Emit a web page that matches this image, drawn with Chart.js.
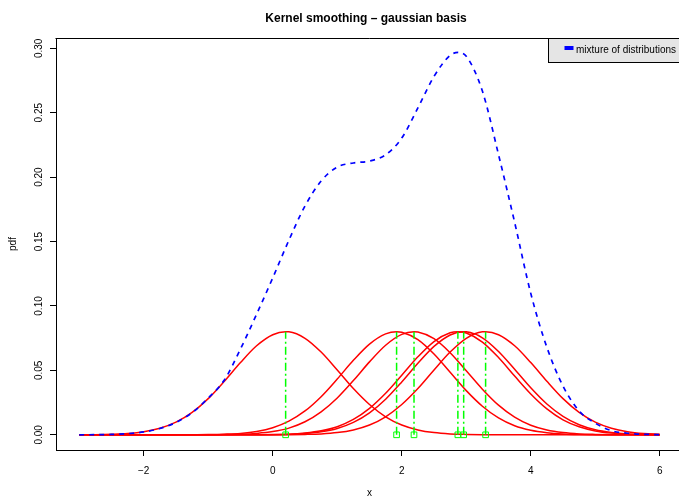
<!DOCTYPE html>
<html>
<head>
<meta charset="utf-8">
<title>Kernel smoothing - gaussian basis</title>
<script src="https://cdn.jsdelivr.net/npm/chart.js@4.4.1/dist/chart.umd.min.js"></script>
<style>
  html, body { margin: 0; padding: 0; background: #fff; overflow: hidden; }
  canvas { display: block; }
</style>
</head>
<body>
<canvas id="kernelChart" width="690" height="499"></canvas>
<script>
// x grid the curves were read on (step 0.25)
const gridX = [-3, -2.75, -2.5, -2.25, -2, -1.75, -1.5, -1.25, -1, -0.75, -0.5, -0.25,
  0, 0.25, 0.5, 0.75, 1, 1.25, 1.5, 1.75, 2, 2.25, 2.5, 2.75, 3, 3.25, 3.5, 3.75,
  4, 4.25, 4.5, 4.75, 5, 5.25, 5.5, 5.75, 6];

// observed data points (green squares) and the height of each kernel at its centre
const dataX = [0.2, 1.92, 2.19, 2.87, 2.96, 3.3];
const kernelPeak = [0.08, 0.08, 0.08, 0.08, 0.08, 0.08];

// red kernels, one per data point, on gridX
const kernel1 = [0, 0.0001, 0.0004, 0.0010, 0.0024, 0.0051, 0.0098, 0.0174, 0.0281, 0.0416, 0.0561, 0.0691,
  0.0777, 0.0799, 0.0749, 0.0642, 0.0503, 0.0359, 0.0235, 0.0140, 0.0076, 0.0038, 0.0017, 0.0007, 0.0003, 0.0001,
  0, 0, 0, 0, 0, 0, 0, 0, 0, 0, 0];
const kernel2 = [0, 0, 0, 0, 0, 0, 0, 0.0001, 0.0002, 0.0005, 0.0011, 0.0026,
  0.0055, 0.0106, 0.0185, 0.0296, 0.0433, 0.0578, 0.0704, 0.0783, 0.0796, 0.0739, 0.0627, 0.0485, 0.0343, 0.0222,
  0.0131, 0.0070, 0.0035, 0.0016, 0.0006, 0.0002, 0.0001, 0, 0, 0, 0];
const kernel3 = [0, 0, 0, 0, 0, 0, 0, 0, 0, 0.0002, 0.0004, 0.0011,
  0.0025, 0.0052, 0.0101, 0.0178, 0.0286, 0.0421, 0.0566, 0.0695, 0.0779, 0.0798, 0.0746, 0.0637, 0.0497, 0.0354,
  0.0230, 0.0137, 0.0074, 0.0037, 0.0017, 0.0007, 0.0003, 0.0001, 0, 0, 0];
const kernel4 = [0, 0, 0, 0, 0, 0, 0, 0, 0, 0, 0, 0.0001,
  0.0002, 0.0005, 0.0014, 0.0031, 0.0063, 0.0119, 0.0205, 0.0322, 0.0462, 0.0605, 0.0724, 0.0792, 0.0790, 0.0720,
  0.0600, 0.0456, 0.0317, 0.0201, 0.0116, 0.0062, 0.0030, 0.0013, 0.0005, 0.0002, 0.0001];
const kernel5 = [0, 0, 0, 0, 0, 0, 0, 0, 0, 0, 0, 0,
  0.0001, 0.0004, 0.0010, 0.0023, 0.0049, 0.0096, 0.0170, 0.0276, 0.0410, 0.0555, 0.0686, 0.0775, 0.0799, 0.0753,
  0.0647, 0.0509, 0.0365, 0.0239, 0.0143, 0.0078, 0.0039, 0.0018, 0.0007, 0.0003, 0.0001];
const kernel6 = [0, 0, 0, 0, 0, 0, 0, 0, 0, 0, 0, 0,
  0, 0.0001, 0.0003, 0.0007, 0.0017, 0.0038, 0.0076, 0.0140, 0.0235, 0.0359, 0.0503, 0.0642, 0.0749, 0.0799,
  0.0777, 0.0691, 0.0561, 0.0416, 0.0281, 0.0174, 0.0098, 0.0051, 0.0024, 0.0010, 0.0004];
const kernels = [kernel1, kernel2, kernel3, kernel4, kernel5, kernel6];

// blue dashed mixture
const mixX = [-3, -2.75, -2.5, -2.25, -2, -1.75, -1.5, -1.25, -1, -0.75, -0.5, -0.25,
  0, 0.25, 0.5, 0.75, 1, 1.25, 1.5, 1.75, 2, 2.25, 2.5, 2.75, 2.875, 3, 3.25, 3.5, 3.75,
  4, 4.25, 4.5, 4.75, 5, 5.25, 5.5, 5.75, 6];
const mixY = [0, 0.0001, 0.0003, 0.0009, 0.0022, 0.0049, 0.0096, 0.0172, 0.0285, 0.0425, 0.0666, 0.0936,
  0.1218, 0.1510, 0.1776, 0.1970, 0.2078, 0.2110, 0.2125, 0.2173, 0.2303, 0.2537, 0.2782, 0.2945, 0.2968, 0.2938,
  0.2668, 0.2175, 0.1649, 0.1098, 0.0679, 0.0378, 0.0185, 0.0090, 0.0032, 0.0012, 0.0004, 0.0001];

const xTicks = [-2, 0, 2, 4, 6];
const xTickLabels = ['\u22122', '0', '2', '4', '6'];
const yTicks = [0, 0.05, 0.10, 0.15, 0.20, 0.25, 0.30];
const yTickLabels = ['0.00', '0.05', '0.10', '0.15', '0.20', '0.25', '0.30'];

const titleText = 'Kernel smoothing \u2013 gaussian basis';
const mixLabel = 'mixture of distributions';

const fontFamily = '"Liberation Sans", Arial, Helvetica, sans-serif';

function toPoints(xs, ys) {
  return xs.map((x, i) => ({ x: x, y: ys[i] }));
}

// kernel curve on the grid plus its own centre point
function kernelPoints(ys, c, peak) {
  const pts = toPoints(gridX, ys);
  pts.push({ x: c, y: peak });
  pts.sort((a, b) => a.x - b.x);
  return pts;
}

const datasets = [];

// green squares at y = 0
datasets.push({
  label: 'data',
  data: dataX.map(x => ({ x: x, y: 0 })),
  showLine: false,
  pointStyle: 'rect',
  pointRadius: 4,
  pointBorderWidth: 1,
  pointBorderColor: '#00ff00',
  pointBackgroundColor: 'rgba(0,0,0,0)',
  order: 0
});

// green dot-dash segments up to each kernel peak
dataX.forEach((c, i) => {
  datasets.push({
    label: 'seg' + i,
    data: [{ x: c, y: 0 }, { x: c, y: kernelPeak[i] }],
    borderColor: '#00ff00',
    borderWidth: 1.5,
    borderDash: [8, 3, 2, 3],
    pointRadius: 0,
    order: 1
  });
});

datasets.push({
  label: mixLabel,
  data: toPoints(mixX, mixY),
  borderColor: '#0000ff',
  borderWidth: 1.7,
  borderDash: [5, 5],
  pointRadius: 0,
  cubicInterpolationMode: 'monotone',
  order: 2
});

kernels.forEach((k, i) => {
  datasets.push({
    label: 'kernel' + (i + 1),
    data: kernelPoints(k, dataX[i], kernelPeak[i]),
    borderColor: '#ff0000',
    borderWidth: 1.5,
    pointRadius: 0,
    cubicInterpolationMode: 'monotone',
    order: 3
  });
});

// title, rotated y labels, top frame line and the legend box
const decorations = {
  id: 'decorations',
  afterDraw(chart) {
    const ctx = chart.ctx;
    const area = chart.chartArea;
    const yScale = chart.scales.y;

    ctx.save();
    ctx.fillStyle = '#000';

    ctx.font = 'bold 12px ' + fontFamily;
    ctx.textAlign = 'center';
    ctx.textBaseline = 'alphabetic';
    ctx.fillText(titleText, 366, 22);

    ctx.font = '10px ' + fontFamily;
    ctx.textBaseline = 'middle';
    yTicks.forEach((v, i) => {
      const py = yScale.getPixelForValue(v);
      ctx.save();
      ctx.translate(39, py);
      ctx.rotate(-Math.PI / 2);
      ctx.fillText(yTickLabels[i], 0, 0);
      ctx.restore();
    });

    ctx.strokeStyle = '#000';
    ctx.lineWidth = 1;
    ctx.beginPath();
    ctx.moveTo(Math.round(area.left) - 0.5, Math.round(area.top) + 0.5);
    ctx.lineTo(area.right, Math.round(area.top) + 0.5);
    ctx.stroke();

    // legend (top right)
    const textW = ctx.measureText(mixLabel).width;
    const boxW = 16.5 + 11 + textW + 7;
    const boxX = Math.round(area.right - boxW) + 0.5;
    const boxY = Math.round(area.top) + 0.5;
    const boxH = 24;
    ctx.fillStyle = '#e5e5e5';
    ctx.fillRect(boxX, boxY, boxW + 10, boxH);
    ctx.strokeRect(boxX, boxY, boxW + 10, boxH);
    ctx.fillStyle = '#0000ff';
    ctx.fillRect(boxX + 16, boxY + 7.5, 9, 4);
    ctx.fillStyle = '#000';
    ctx.textAlign = 'left';
    ctx.fillText(mixLabel, boxX + 27.5, boxY + 12);

    ctx.restore();
  }
};

const ctx = document.getElementById('kernelChart').getContext('2d');
const kernelChart = new Chart(ctx, {
  type: 'line',
  data: { datasets: datasets },
  options: {
    responsive: false,
    animation: false,
    devicePixelRatio: 1,
    layout: { padding: { top: 38, right: 7, bottom: 0, left: 0 } },
    plugins: {
      legend: { display: false },
      tooltip: { enabled: false },
      title: { display: false }
    },
    scales: {
      x: {
        type: 'linear',
        min: -3.36,
        max: 6.36,
        afterBuildTicks: s => { s.ticks = xTicks.map(v => ({ value: v })); },
        afterFit: s => { s.height = 49; },
        ticks: {
          callback: v => xTickLabels[xTicks.indexOf(v)],
          font: { family: fontFamily, size: 10 },
          color: '#000',
          padding: 9,
          maxRotation: 0,
          autoSkip: false
        },
        grid: { drawOnChartArea: false, drawTicks: true, tickLength: 6, color: '#000', tickColor: '#000' },
        border: { display: true, color: '#000', width: 1 },
        title: {
          display: true,
          text: 'x',
          color: '#000',
          font: { family: fontFamily, size: 10 },
          padding: { top: 0, bottom: 0 }
        }
      },
      y: {
        type: 'linear',
        min: -0.0118,
        max: 0.308,
        afterBuildTicks: s => { s.ticks = yTicks.map(v => ({ value: v })); },
        afterFit: s => { s.width = 56; },
        ticks: { display: false },
        grid: { drawOnChartArea: false, drawTicks: true, tickLength: 6, color: '#000', tickColor: '#000' },
        border: { display: true, color: '#000', width: 1 },
        title: {
          display: true,
          text: 'pdf',
          color: '#000',
          font: { family: fontFamily, size: 10 },
          padding: { top: 7, bottom: 0 }
        }
      }
    }
  },
  plugins: [decorations]
});
</script>
</body>
</html>
